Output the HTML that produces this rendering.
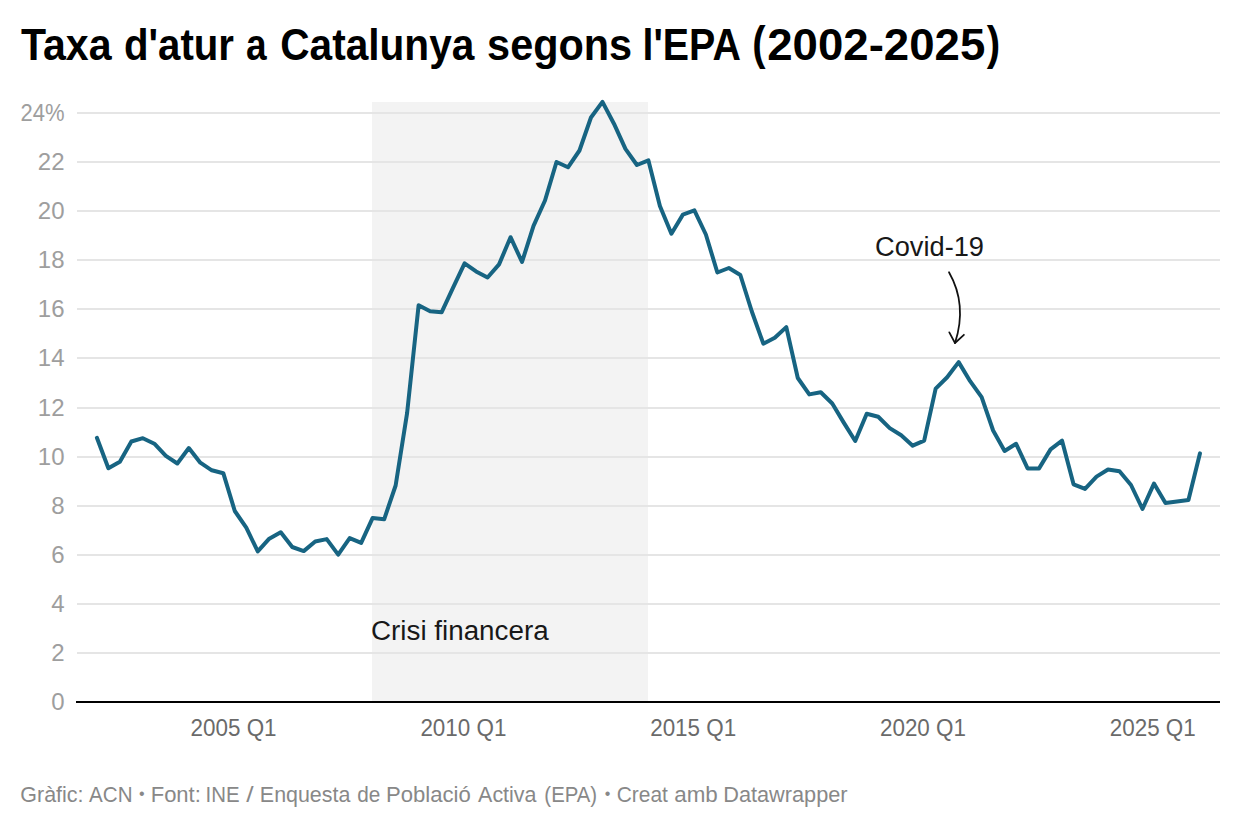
<!DOCTYPE html>
<html><head><meta charset="utf-8"><title>Taxa d'atur a Catalunya segons l'EPA (2002-2025)</title>
<style>
html,body{margin:0;padding:0;background:#fff;}
body{width:1240px;height:828px;overflow:hidden;}
svg{display:block;}
text{font-family:"Liberation Sans",Arial,sans-serif;}
</style></head><body>
<svg width="1240" height="828" viewBox="0 0 1240 828">
<rect x="0" y="0" width="1240" height="828" fill="#fff"/>
<text x="20.90" y="60" font-size="44" font-weight="bold" fill="#000" textLength="90.63" lengthAdjust="spacingAndGlyphs">Taxa</text>
<text x="123.97" y="60" font-size="44" font-weight="bold" fill="#000" textLength="109.95" lengthAdjust="spacingAndGlyphs">d'atur</text>
<text x="245.96" y="60" font-size="44" font-weight="bold" fill="#000" textLength="20.61" lengthAdjust="spacingAndGlyphs">a</text>
<text x="280.25" y="60" font-size="44" font-weight="bold" fill="#000" textLength="194.10" lengthAdjust="spacingAndGlyphs">Catalunya</text>
<text x="487.12" y="60" font-size="44" font-weight="bold" fill="#000" textLength="145.01" lengthAdjust="spacingAndGlyphs">segons</text>
<text x="642.52" y="60" font-size="44" font-weight="bold" fill="#000" textLength="98.29" lengthAdjust="spacingAndGlyphs">l'EPA</text>
<text x="767.26" y="60" font-size="44" font-weight="bold" fill="#000" textLength="218.01" lengthAdjust="spacingAndGlyphs">2002-2025</text>
<text x="752.30" y="59.4" font-size="47" font-weight="bold" fill="#000" textLength="13.31" lengthAdjust="spacingAndGlyphs">(</text>
<text x="986.80" y="59.4" font-size="47" font-weight="bold" fill="#000" textLength="13.42" lengthAdjust="spacingAndGlyphs">)</text>
<rect x="372" y="102" width="276" height="600" fill="#f3f3f3"/>
<g stroke="#e5e5e5" stroke-width="2">
<line x1="77" x2="1220" y1="653" y2="653"/>
<line x1="77" x2="1220" y1="604" y2="604"/>
<line x1="77" x2="1220" y1="555" y2="555"/>
<line x1="77" x2="1220" y1="506" y2="506"/>
<line x1="77" x2="1220" y1="457" y2="457"/>
<line x1="77" x2="1220" y1="408" y2="408"/>
<line x1="77" x2="1220" y1="358" y2="358"/>
<line x1="77" x2="1220" y1="309" y2="309"/>
<line x1="77" x2="1220" y1="260" y2="260"/>
<line x1="77" x2="1220" y1="211" y2="211"/>
<line x1="77" x2="1220" y1="162" y2="162"/>
<line x1="77" x2="1220" y1="113" y2="113"/>
</g>
<line x1="76" x2="1220" y1="702" y2="702" stroke="#000" stroke-width="2"/>
<g font-size="24" fill="#9e9e9e" text-anchor="end">
<text x="64.5" y="709.75">0</text>
<text x="64.5" y="660.75">2</text>
<text x="64.5" y="611.75">4</text>
<text x="64.5" y="562.75">6</text>
<text x="64.5" y="513.75">8</text>
<text x="64.5" y="464.75">10</text>
<text x="64.5" y="415.75">12</text>
<text x="64.5" y="365.75">14</text>
<text x="64.5" y="316.75">16</text>
<text x="64.5" y="267.75">18</text>
<text x="64.5" y="218.75">20</text>
<text x="64.5" y="169.75">22</text>
<text x="64.5" y="120.75" textLength="44" lengthAdjust="spacingAndGlyphs">24%</text>
</g>
<g font-size="23" fill="#6a6a6a" text-anchor="middle">
<text x="233.58" y="735.6" textLength="86" lengthAdjust="spacingAndGlyphs">2005 Q1</text>
<text x="463.38" y="735.6" textLength="86" lengthAdjust="spacingAndGlyphs">2010 Q1</text>
<text x="693.18" y="735.6" textLength="86" lengthAdjust="spacingAndGlyphs">2015 Q1</text>
<text x="922.98" y="735.6" textLength="86" lengthAdjust="spacingAndGlyphs">2020 Q1</text>
<text x="1152.78" y="735.6" textLength="86" lengthAdjust="spacingAndGlyphs">2025 Q1</text>
</g>
<polyline points="96.90,437.80 108.39,468.30 119.88,461.80 131.37,441.50 142.86,438.20 154.35,443.70 165.84,455.90 177.33,463.50 188.82,448.00 200.31,462.70 211.80,470.30 223.29,473.20 234.78,511.00 246.27,527.70 257.76,551.40 269.25,538.70 280.74,532.20 292.23,547.00 303.72,551.10 315.21,541.50 326.70,539.10 338.19,554.60 349.68,538.10 361.17,542.90 372.66,517.90 384.15,519.30 395.64,485.50 407.13,412.90 418.62,305.20 430.11,311.30 441.60,312.30 453.09,287.60 464.58,263.30 476.07,271.40 487.56,277.50 499.05,264.40 510.54,237.20 522.03,262.00 533.52,225.80 545.01,200.50 556.50,162.00 567.99,167.30 579.48,150.50 590.97,117.50 602.46,101.90 613.95,123.70 625.44,148.90 636.93,165.00 648.42,160.40 659.91,206.00 671.40,233.70 682.89,214.60 694.38,210.30 705.87,234.50 717.36,272.50 728.85,268.00 740.34,275.00 751.83,311.50 763.32,343.70 774.81,337.80 786.30,327.10 797.79,378.00 809.28,394.40 820.77,392.20 832.26,403.50 843.75,422.60 855.24,441.00 866.73,413.70 878.22,416.80 889.71,428.10 901.20,435.30 912.69,445.70 924.18,440.60 935.67,388.60 947.16,377.30 958.65,362.10 970.14,381.20 981.63,397.20 993.12,430.50 1004.61,451.00 1016.10,443.80 1027.59,468.40 1039.08,468.40 1050.57,449.40 1062.06,440.70 1073.55,484.30 1085.04,488.90 1096.53,476.60 1108.02,469.50 1119.51,471.30 1131.00,485.00 1142.49,509.00 1153.98,483.60 1165.47,502.90 1176.96,501.40 1188.45,500.00 1199.94,453.40" fill="none" stroke="#176482" stroke-width="4" stroke-linejoin="round" stroke-linecap="round"/>
<text x="371" y="640" font-size="27" fill="#181818" textLength="177.6" lengthAdjust="spacingAndGlyphs">Crisi financera</text>
<text x="875" y="255.8" font-size="27" fill="#181818" textLength="109" lengthAdjust="spacingAndGlyphs">Covid-19</text>
<g fill="none" stroke="#111" stroke-width="1.75" stroke-linecap="round" stroke-linejoin="round">
<path d="M949,272.2 C962,295 962.5,320 955,343"/>
<path d="M949.3,332.3 L955,343 L963.9,334.8"/>
</g>
<g font-size="22" fill="#888">
<text x="20.32" y="801.9" font-size="22" font-weight="normal" fill="#888" textLength="63.23" lengthAdjust="spacingAndGlyphs">Gràfic:</text>
<text x="89.10" y="801.9" font-size="22" font-weight="normal" fill="#888" textLength="43.46" lengthAdjust="spacingAndGlyphs">ACN</text>
<text x="150.70" y="801.9" font-size="22" font-weight="normal" fill="#888" textLength="50.14" lengthAdjust="spacingAndGlyphs">Font:</text>
<text x="205.55" y="801.9" font-size="22" font-weight="normal" fill="#888" textLength="33.99" lengthAdjust="spacingAndGlyphs">INE</text>
<text x="246.20" y="801.9" font-size="22" font-weight="normal" fill="#888" textLength="7.35" lengthAdjust="spacingAndGlyphs">/</text>
<text x="259.85" y="801.9" font-size="22" font-weight="normal" fill="#888" textLength="90.52" lengthAdjust="spacingAndGlyphs">Enquesta</text>
<text x="357.16" y="801.9" font-size="22" font-weight="normal" fill="#888" textLength="23.10" lengthAdjust="spacingAndGlyphs">de</text>
<text x="386.09" y="801.9" font-size="22" font-weight="normal" fill="#888" textLength="84.70" lengthAdjust="spacingAndGlyphs">Població</text>
<text x="478.10" y="801.9" font-size="22" font-weight="normal" fill="#888" textLength="58.42" lengthAdjust="spacingAndGlyphs">Activa</text>
<text x="544.37" y="801.9" font-size="22" font-weight="normal" fill="#888" textLength="52.79" lengthAdjust="spacingAndGlyphs">(EPA)</text>
<text x="616.75" y="801.9" font-size="22" font-weight="normal" fill="#888" textLength="51.16" lengthAdjust="spacingAndGlyphs">Creat</text>
<text x="674.28" y="801.9" font-size="22" font-weight="normal" fill="#888" textLength="43.53" lengthAdjust="spacingAndGlyphs">amb</text>
<text x="723.23" y="801.9" font-size="22" font-weight="normal" fill="#888" textLength="124.33" lengthAdjust="spacingAndGlyphs">Datawrapper</text>
<text x="141.9" y="798.8" font-size="16" text-anchor="middle">•</text>
<text x="607.6" y="798.8" font-size="16" text-anchor="middle">•</text>
</g>
</svg>
</body></html>
